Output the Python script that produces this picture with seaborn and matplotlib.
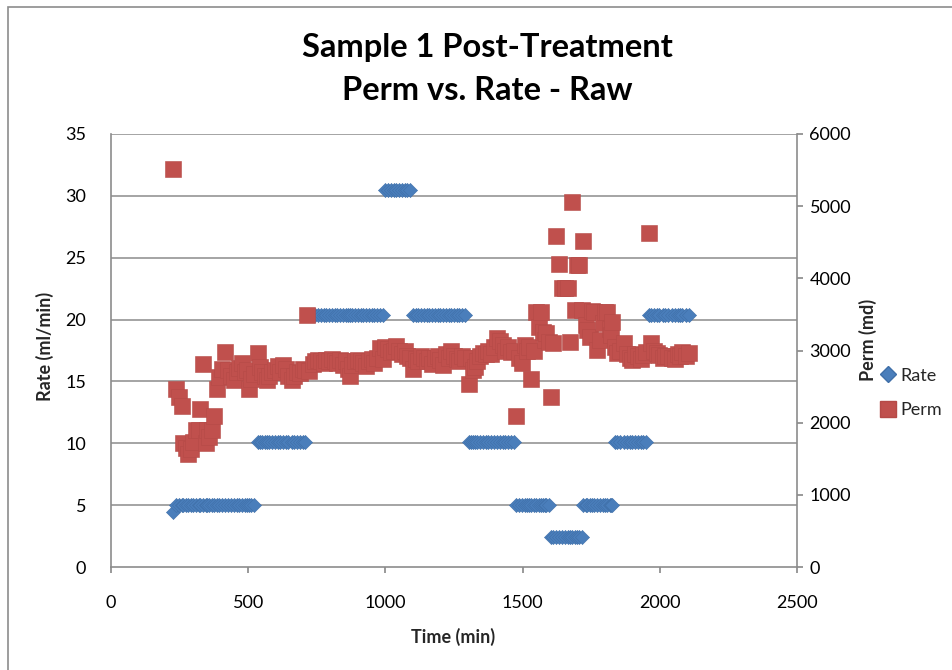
import matplotlib
matplotlib.use("Agg")
import matplotlib.pyplot as plt
import seaborn as sns
import pandas as pd
from matplotlib.lines import Line2D
from matplotlib.patches import Rectangle

# ---- data ----
time_min = [226, 237, 247, 257, 263, 272, 281, 290, 299, 310, 320, 324, 335, 345, 349, 358, 367, 375,
            386, 393, 404, 415, 426, 437, 448, 458, 468, 477, 487, 495, 502, 512, 522,
            535, 542, 552, 560, 567, 577, 587, 597, 607, 617, 626, 636, 646, 659, 668, 678, 688, 698, 708,
            713, 723, 735, 745, 755, 765, 775, 785, 795, 805, 815, 825, 835, 845, 855, 865, 870, 880,
            890, 900, 910, 920, 930, 940, 950, 960, 970, 980, 990,
            1000, 1010, 1020, 1030, 1040, 1050, 1060, 1070, 1080, 1090,
            1100, 1110, 1120, 1130, 1140, 1150, 1160, 1170, 1180, 1190, 1200, 1210, 1220, 1230, 1240,
            1250, 1260, 1270, 1280, 1290,
            1303, 1312, 1318, 1325, 1335, 1345, 1354, 1365, 1375, 1385, 1395, 1405, 1416, 1427, 1437,
            1447, 1457, 1467,
            1477, 1487, 1496, 1507, 1517, 1525, 1532, 1542, 1550, 1561, 1568, 1575, 1580, 1587, 1595,
            1605, 1612, 1623, 1634, 1645, 1655, 1665, 1674, 1681, 1692, 1700, 1707, 1715,
            1721, 1730, 1736, 1745, 1754, 1762, 1772, 1782, 1792, 1800, 1809, 1817, 1823, 1827,
            1836, 1845, 1855, 1870, 1880, 1890, 1900, 1910, 1920, 1930, 1940, 1950,
            1961, 1969, 1980, 1990, 1998, 2010, 2020, 2030, 2045, 2055, 2065, 2075, 2081, 2095, 2107]

rate_ml_min = [4.45, 5.0, 5.0, 5.0, 5.0, 5.0, 5.0, 5.0, 5.0, 5.0, 5.0, 5.0, 5.0, 5.0, 5.0, 5.0, 5.0, 5.0,
               5.0, 5.0, 5.0, 5.0, 5.0, 5.0, 5.0, 5.0, 5.0, 5.0, 5.0, 5.0, 5.0, 5.0, 5.0,
               10.1, 10.1, 10.1, 10.1, 10.1, 10.1, 10.1, 10.1, 10.1, 10.1, 10.1, 10.1, 10.1, 10.1, 10.1,
               10.1, 10.1, 10.1, 10.1,
               20.4, 20.4, 20.4, 20.4, 20.4, 20.4, 20.4, 20.4, 20.4, 20.4, 20.4, 20.4, 20.4, 20.4, 20.4,
               20.4, 20.4, 20.4, 20.4, 20.4, 20.4, 20.4, 20.4, 20.4, 20.4, 20.4, 20.4, 20.4, 20.4,
               30.5, 30.5, 30.5, 30.5, 30.5, 30.5, 30.5, 30.5, 30.5, 30.5,
               20.4, 20.4, 20.4, 20.4, 20.4, 20.4, 20.4, 20.4, 20.4, 20.4, 20.4, 20.4, 20.4, 20.4, 20.4,
               20.4, 20.4, 20.4, 20.4, 20.4,
               10.1, 10.1, 10.1, 10.1, 10.1, 10.1, 10.1, 10.1, 10.1, 10.1, 10.1, 10.1, 10.1, 10.1, 10.1,
               10.1, 10.1, 10.1,
               5.0, 5.0, 5.0, 5.0, 5.0, 5.0, 5.0, 5.0, 5.0, 5.0, 5.0, 5.0, 5.0, 5.0, 5.0,
               2.45, 2.45, 2.45, 2.45, 2.45, 2.45, 2.45, 2.45, 2.45, 2.45, 2.45, 2.45, 2.45,
               5.0, 5.0, 5.0, 5.0, 5.0, 5.0, 5.0, 5.0, 5.0, 5.0, 5.0, 5.0, 5.0, 5.0,
               10.1, 10.1, 10.1, 10.1, 10.1, 10.1, 10.1, 10.1, 10.1, 10.1, 10.1, 10.1,
               20.4, 20.4, 20.4, 20.4, 20.4, 20.4, 20.4, 20.4, 20.4, 20.4, 20.4, 20.4, 20.4, 20.4, 20.4]

perm_md = [5520, 2470, 2360, 2230, 1720, 1650, 1570, 1640, 1730, 1900, 1900, 2190, 2810, 1720, 1900, 1800,
           1900, 2090, 2470, 2630, 2750, 2980, 2730, 2650, 2590, 2700, 2760, 2830, 2700, 2730, 2470, 2600,
           2680,
           2960, 2770, 2700, 2650, 2590, 2650, 2700, 2730, 2780, 2700, 2800, 2750, 2640, 2590, 2650, 2700,
           2690, 2750, 2730,
           3490, 2720, 2810, 2850, 2870, 2860, 2830, 2870, 2850, 2880, 2860, 2820, 2870, 2800, 2860, 2750,
           2640, 2800, 2850, 2870, 2860, 2820, 2790, 2850, 2880, 2830, 2900, 3040, 2880,
           3050, 3020, 2980, 3000, 3060, 2990, 2950, 3000, 2930, 2900,
           2750, 2880, 2850, 2920, 2890, 2860, 2900, 2810, 2900, 2930, 2870, 2800, 2950, 2890, 2990,
           2930, 2880, 2850, 2930, 2900,
           2540, 2900, 2730, 2770, 2850, 2920, 2970, 2950, 3000, 2950, 3050, 3180, 3130, 3080, 3000,
           3050, 2980, 3000,
           2090, 2900, 2830, 3080, 3000, 3050, 2610, 3000, 3530, 3320, 3530, 3250, 3150, 3240, 3120,
           2360, 3100, 4590, 4200, 3870, 3870, 3860, 3120, 5060, 3560, 4190, 4180, 3560,
           4520, 3350, 3280, 3190, 3550, 3530, 3010, 3150, 3380, 3530, 3530, 3300, 3210, 3400,
           3050, 2960, 3000, 3100, 2950, 2900, 2870, 2950, 2930, 2880, 2940, 2980,
           4630, 3100, 3000, 2960, 2940, 2900, 2920, 2930, 2900, 2880, 2950, 2920, 2980, 2930, 2960]

title_text = "Sample 1 Post-Treatment\nPerm vs. Rate - Raw"
x_label = "Time (min)"
y_label_left = "Rate (ml/min)"
y_label_right = "Perm (md)"
series_names = ["Rate", "Perm"]

df = pd.DataFrame({"time": time_min, "rate": rate_ml_min, "perm": perm_md})

# ---- styling ----
sns.set_theme(style="white")
plt.rcParams["font.family"] = ["Lato", "DejaVu Sans"]

BLUE = "#4A7EBB"
BLUE_EDGE = "#3F6FA8"
RED = "#C0504D"
RED_EDGE = "#B54A47"
GRID = "#8C8C8C"
TXT = "#000000"

fig = plt.figure(figsize=(9.52, 6.70), dpi=100)
ax = fig.add_axes([111 / 952, 1 - 567 / 670, 686 / 952, 433 / 670])
ax2 = ax.twinx()

sns.scatterplot(data=df, x="time", y="rate", ax=ax, marker="D", s=52,
                color=BLUE, edgecolor=BLUE_EDGE, linewidth=0.4, zorder=3, legend=False)
sns.scatterplot(data=df, x="time", y="perm", ax=ax2, marker="s", s=118,
                color=RED, edgecolor=RED_EDGE, linewidth=0.4, zorder=3, legend=False)

ax.set_xlim(0, 2500)
ax.set_ylim(0, 35)
ax2.set_ylim(0, 6000)
ax.set_xticks([0, 500, 1000, 1500, 2000, 2500])
ax.set_yticks([0, 5, 10, 15, 20, 25, 30, 35])
ax2.set_yticks([0, 1000, 2000, 3000, 4000, 5000, 6000])

ax.grid(False)
ax2.grid(False)
for yv in [5, 10, 15, 20, 25, 30, 35]:
    ax.axhline(yv, color=GRID, lw=1.1, zorder=0)

for a in (ax, ax2):
    for sp in a.spines.values():
        sp.set_visible(False)
ax.spines["left"].set_visible(True)
ax.spines["left"].set_color(GRID)
ax.spines["left"].set_linewidth(1.2)
ax.spines["bottom"].set_visible(True)
ax.spines["bottom"].set_color(GRID)
ax.spines["bottom"].set_linewidth(1.2)
ax2.spines["right"].set_visible(True)
ax2.spines["right"].set_color(GRID)
ax2.spines["right"].set_linewidth(1.2)

ax.tick_params(axis="y", left=False, labelsize=13, pad=12, colors=TXT)
ax.tick_params(axis="x", bottom=True, direction="out", length=4, color=GRID,
               labelsize=13, pad=16, labelcolor=TXT)
ax2.tick_params(axis="y", right=True, direction="out", length=4, color=GRID,
                labelsize=13, pad=5, labelcolor=TXT)

ax.set_xlabel(x_label, fontsize=13, fontweight="bold")
ax.xaxis.set_label_coords(0.4985, -0.162)
ax.xaxis.label.set_verticalalignment("center")
ax.set_ylabel(y_label_left, fontsize=13, fontweight="bold")
ax.yaxis.set_label_coords(-0.096, 0.51)
ax.yaxis.label.set_verticalalignment("center")
ax2.set_ylabel(y_label_right, fontsize=13, fontweight="bold", rotation=90)
ax2.yaxis.set_label_coords(1.1035, 0.524)
ax2.yaxis.label.set_verticalalignment("center")

fig.text(487 / 952, 1 - 69 / 670, title_text, ha="center", va="center",
         fontsize=23.5, fontweight="bold", linespacing=1.55, color=TXT)

handles = [Line2D([], [], ls="none", marker="D", ms=8, color=BLUE, mec=BLUE_EDGE),
           Line2D([], [], ls="none", marker="s", ms=11, color=RED, mec=RED_EDGE)]
fig.legend(handles, series_names, loc="center left", bbox_to_anchor=(881 / 952, 1 - 393 / 670),
           frameon=False, fontsize=13, handlelength=0.8, handletextpad=0.3, labelspacing=1.05,
           borderaxespad=0, borderpad=0)

# chart-area border (left and top edges visible in the reference)
fig.patches.append(Rectangle((8 / 952, -0.1), 1.2, (1 - 7 / 670) + 0.1, transform=fig.transFigure,
                             fill=False, edgecolor="#8C8C8C", lw=1.2))

fig.savefig("out.png", dpi=100)
